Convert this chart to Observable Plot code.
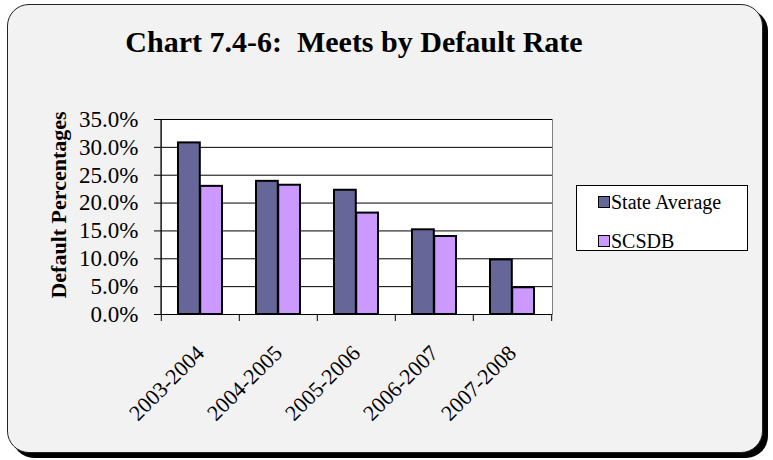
<!DOCTYPE html>
<html>
<head>
<meta charset="utf-8">
<script src="https://cdn.jsdelivr.net/npm/d3@7"></script>
<script src="https://cdn.jsdelivr.net/npm/@observablehq/plot@0.6"></script>
<style>
  html, body { margin: 0; padding: 0; background: #fff; }
  #wrap { position: relative; width: 773px; height: 460px; overflow: hidden; font-family: "Liberation Serif", "Times New Roman", serif; }
  #box { position: absolute; left: 7px; top: 4px; width: 756px; height: 449px; box-sizing: border-box; border: 1px solid #222; border-radius: 22px; background: #f2f2f2; box-shadow: 5px 5px 0 #000; }
  #title { position: absolute; left: 0; top: 27px; width: 708px; text-align: center; font-size: 30px; line-height: 1; font-weight: bold; color: #000; }
  #ylabel { position: absolute; left: 59px; top: 205px; transform: translate(-50%, -50%) rotate(-90deg); white-space: nowrap; font-size: 22px; font-weight: bold; line-height: 1; }
  #legend { position: absolute; left: 576px; top: 185px; width: 172px; height: 66px; box-sizing: border-box; border: 1px solid #000; background: #fff; font-size: 20px; }
  .item { position: absolute; left: 21px; display: flex; align-items: center; line-height: 1; height: 20px; }
  .sw { width: 10px; height: 10px; border: 1.5px solid #000; margin-right: 1px; }
  #chart { position: absolute; left: 0; top: 0; }
</style>
</head>
<body>
<div id="wrap">
  <div id="box"></div>
  <div id="chart"></div>
  <div id="title">Chart 7.4-6:&nbsp; Meets by Default Rate</div>
  <div id="ylabel">Default Percentages</div>
  <div id="legend"></div>
</div>
<script>
const categories = ["2003-2004", "2004-2005", "2005-2006", "2006-2007", "2007-2008"];
const seriesNames = ["State Average", "SCSDB"];
const stateAverage = [0.308, 0.239, 0.223, 0.152, 0.098];
const scsdb = [0.230, 0.232, 0.182, 0.140, 0.048];
const yTicks = [0, 0.05, 0.10, 0.15, 0.20, 0.25, 0.30, 0.35];
const colors = ["#666699", "#CC99FF"];

const stateData = categories.map((c, i) => ({category: c, value: stateAverage[i]}));
const scsdbData = categories.map((c, i) => ({category: c, value: scsdb[i]}));

const W = 773, H = 460;
const mL = 160, mR = 221, mT = 119, mB = 146;
const band = (W - mL - mR) / categories.length;
const serif = "Liberation Serif";

const plot = Plot.plot({
  width: W,
  height: H,
  marginLeft: mL,
  marginRight: mR,
  marginTop: mT,
  marginBottom: mB,
  style: {background: "transparent", color: "#000", fontFamily: serif},
  x: {type: "band", domain: categories, padding: 0},
  y: {domain: [0, 0.35]},
  marks: [
    Plot.frame({fill: "#fff", stroke: "#808080"}),
    Plot.gridY(yTicks, {stroke: "#000", strokeOpacity: 1}),
    Plot.barY(stateData, {x: "category", y: "value", fill: colors[0], stroke: "#000", strokeWidth: 2, insetLeft: 17, insetRight: band - 17 - 22.2}),
    Plot.barY(scsdbData, {x: "category", y: "value", fill: colors[1], stroke: "#000", strokeWidth: 2, insetLeft: band - 17 - 22.2, insetRight: 17}),
    Plot.axisY(yTicks, {tickFormat: d3.format(".1%"), tickSize: 6, tickPadding: 16, fontSize: 23, fontFamily: serif, label: null, stroke: "#000"}),
    Plot.ruleX([0], {x: () => categories[0], dx: -band / 2, stroke: "#000"}),
    Plot.ruleY([0], {stroke: "#000"}),
    Plot.ruleX(categories, {x: d => d, dx: -band / 2, y1: 0, y2: 0, insetBottom: -7, stroke: "#000"}),
    Plot.ruleX([categories[categories.length - 1]], {x: d => d, dx: band / 2, y1: 0, y2: 0, insetBottom: -7, stroke: "#000"}),
    Plot.axisX({tickSize: 0, tickRotate: -45, tickPadding: 35, fontSize: 22, fontFamily: serif, label: null})
  ]
});
document.getElementById("chart").appendChild(plot);

const legend = document.getElementById("legend");
seriesNames.forEach((name, i) => {
  const item = document.createElement("div");
  item.className = "item";
  item.style.top = (i === 0 ? 6 : 45) + "px";
  const sw = document.createElement("span");
  sw.className = "sw";
  sw.style.background = colors[i];
  const t = document.createElement("span");
  t.textContent = name;
  item.appendChild(sw);
  item.appendChild(t);
  legend.appendChild(item);
});
</script>
</body>
</html>
